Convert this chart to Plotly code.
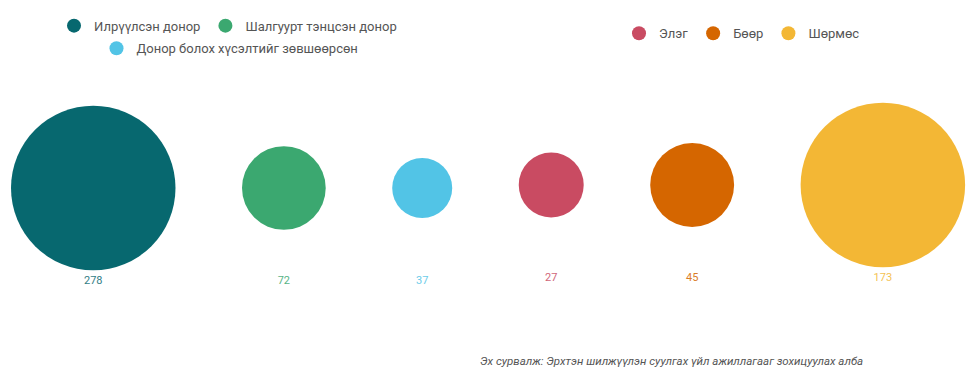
import math
import plotly.graph_objects as go

# ---- data ----
categories = ["Илрүүлсэн донор", "Шалгуурт тэнцсэн донор", "Донор болох хүсэлтийг зөвшөөрсөн",
              "Элэг", "Бөөр", "Шөрмөс"]
values = [278, 72, 37, 27, 45, 173]
groups = [0, 0, 0, 1, 1, 1]
source_text = "Эх сурвалж: Эрхтэн шилжүүлэн суулгах үйл ажиллагааг зохицуулах алба"

# ---- styles / layout constants ----
colors = ["#07686f", "#3ba870", "#52c4e6", "#c94b62", "#d56600", "#f3b735"]
legend_ids = ["legend", "legend", "legend2", "legend3", "legend3", "legend3"]
WIN_W, WIN_H = 974, 386
OFF = 8                              # page body margin
W, H = WIN_W - OFF, WIN_H - OFF      # figure size fitting the window
MAX_D = 164.5          # diameter of the largest bubble in each group (px)
GAP = 66.5             # horizontal gap between bubbles (px)
LEFT = 11              # left edge of first bubble (px)
group_cy = [188, 185]  # vertical centre of each group (px)
label_offset = 93.5    # label distance below group centre (px)
FONT = "Roboto, 'Open Sans', sans-serif"


def px(xp):
    return (xp - OFF) / W


def py(yp):
    return 1 - (yp - OFF) / H


# bubble diameters: area proportional within each group
gmax = {g: max(v for v, gg in zip(values, groups) if gg == g) for g in set(groups)}
diam = [MAX_D * math.sqrt(v / gmax[g]) for v, g in zip(values, groups)]

# horizontal packing with constant gaps
xs = []
cur = LEFT
for d in diam:
    xs.append(cur + d / 2)
    cur += d + GAP
ys = [group_cy[g] for g in groups]

fig = go.Figure()

for i, cat in enumerate(categories):
    fig.add_trace(go.Scatter(
        x=[xs[i]], y=[ys[i]], mode="markers",
        marker=dict(size=diam[i], sizemode="diameter", color=colors[i], line=dict(width=0), opacity=1),
        name=cat, showlegend=False, hoverinfo="name+text", text=[str(values[i])],
    ))

# value labels
fig.add_trace(go.Scatter(
    x=xs, y=[group_cy[g] + label_offset for g in groups], mode="text",
    text=[str(v) for v in values],
    textfont=dict(family=FONT, size=11, color=colors),
    textposition="middle center", showlegend=False, hoverinfo="skip", opacity=0.85,
))

# legend entries
for i, cat in enumerate(categories):
    fig.add_trace(go.Scatter(
        x=[None], y=[None], mode="markers",
        marker=dict(size=14, color=colors[i]),
        name=cat, legend=legend_ids[i], showlegend=True,
    ))

leg_common = dict(orientation="h", font=dict(family=FONT, size=13, color="#555555"),
                  bgcolor="rgba(0,0,0,0)", itemsizing="trace", itemwidth=30,
                  xanchor="center", yanchor="middle", traceorder="normal")

fig.update_layout(
    width=W, height=H,
    margin=dict(l=0, r=0, t=0, b=0),
    paper_bgcolor="white", plot_bgcolor="white",
    xaxis=dict(range=[OFF, WIN_W], visible=False, fixedrange=True),
    yaxis=dict(range=[WIN_H, OFF], visible=False, fixedrange=True),
    legend=dict(x=px(228), y=py(25.7), **leg_common),
    legend2=dict(x=px(230), y=py(48.3), **leg_common),
    legend3=dict(x=px(742), y=py(33.3), **leg_common),
    annotations=[dict(
        text="<i>" + source_text + "</i>", x=px(865), y=py(360.7),
        xref="paper", yref="paper", xanchor="right", yanchor="middle", showarrow=False,
        font=dict(family=FONT, size=11.5, color="#555555"),
    )],
    showlegend=True,
)

fig.write_html("out.html")
